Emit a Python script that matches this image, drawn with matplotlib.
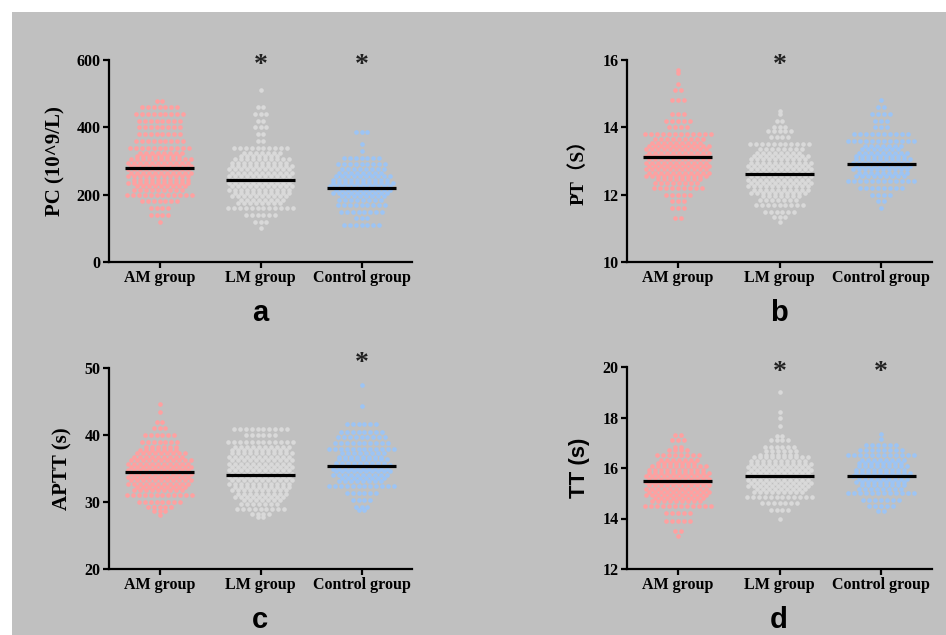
import numpy as np
import matplotlib
matplotlib.use('Agg')
from matplotlib import pyplot as plt
from matplotlib.patches import Rectangle

W, H = 946, 635

groups = ['AM group', 'LM group', 'Control group']
colors = ['#ffa0a0', '#d9d9d9', '#9cc4f5']

# every group is given as row values and the number of dots in that row

# PC (10^9/L)
pc_am_vals = [120, 140, 160, 180, 200, 220, 240, 260, 280, 300, 320, 340, 360, 380, 400, 420, 440, 460, 478]
pc_am_cnts = [1, 4, 4, 7, 12, 18, 21, 22, 22, 22, 16, 11, 9, 8, 8, 8, 9, 7, 2]
pc_lm_vals = [100, 120, 140, 160, 180, 200, 220, 240, 260, 280, 300, 320, 340, 360, 380, 400, 420, 440, 460, 510]
pc_lm_cnts = [1, 3, 6, 12, 16, 20, 22, 22, 22, 22, 20, 14, 10, 2, 2, 3, 2, 3, 2, 1]
pc_ct_vals = [110, 130, 150, 170, 190, 210, 230, 250, 270, 290, 310, 330, 350, 385]
pc_ct_cnts = [7, 3, 8, 9, 16, 20, 22, 20, 16, 9, 7, 1, 1, 3]
pc_means = [280, 243, 220]

# PT (S)
pt_am_vals = [11.3, 11.6, 11.8, 12.0, 12.2, 12.4, 12.6, 12.8, 13.0, 13.2, 13.4, 13.6, 13.8, 14.0, 14.2, 14.4, 14.8, 15.1, 15.3, 15.6, 15.7]
pt_am_cnts = [2, 3, 3, 5, 9, 16, 22, 22, 22, 22, 22, 18, 12, 4, 5, 3, 3, 2, 1, 1, 1]
pt_lm_vals = [11.2, 11.35, 11.5, 11.7, 11.9, 12.1, 12.3, 12.5, 12.7, 12.9, 13.1, 13.3, 13.5, 13.7, 13.9, 14.0, 14.2, 14.4, 14.5]
pt_lm_cnts = [1, 3, 6, 9, 14, 20, 22, 22, 22, 22, 20, 16, 11, 4, 5, 3, 2, 1, 1]
pt_ct_vals = [11.6, 11.8, 12.0, 12.2, 12.4, 12.6, 12.8, 13.0, 13.2, 13.4, 13.6, 13.8, 14.0, 14.2, 14.4, 14.6, 14.8]
pt_ct_cnts = [1, 2, 4, 8, 12, 18, 20, 20, 18, 14, 12, 10, 3, 3, 4, 2, 1]
pt_means = [13.12, 12.61, 12.91]

# APTT (s)
aptt_am_vals = [28.0, 28.7, 29.3, 30, 31, 32, 33, 34, 35, 36, 37, 38, 39, 40, 41, 42, 43.4, 44.7]
aptt_am_cnts = [1, 3, 5, 8, 12, 18, 22, 22, 22, 22, 18, 13, 7, 6, 3, 2, 1, 1]
aptt_lm_vals = [27.7, 28.2, 29, 30, 31, 32, 33, 34, 35, 36, 37, 38, 39, 40, 40.9]
aptt_lm_cnts = [2, 4, 9, 14, 18, 20, 22, 22, 22, 22, 22, 20, 12, 6, 10]
aptt_ct_vals = [28.8, 29.3, 30.3, 31.3, 32.4, 33.4, 34.3, 35.2, 36.1, 37.0, 37.9, 38.8, 39.7, 40.5, 41.6, 44.3, 47.5]
aptt_ct_cnts = [2, 3, 4, 6, 12, 16, 20, 20, 18, 16, 12, 10, 9, 8, 6, 1, 1]
aptt_means = [34.5, 34.1, 35.4]

# TT (s)
tt_am_vals = [13.3, 13.5, 13.9, 14.2, 14.5, 14.75, 15.0, 15.25, 15.5, 15.75, 16.0, 16.25, 16.5, 16.7, 16.85, 17.1, 17.3]
tt_am_cnts = [1, 2, 5, 5, 12, 18, 22, 22, 22, 22, 20, 14, 8, 4, 2, 3, 2]
tt_lm_vals = [14.0, 14.35, 14.6, 14.85, 15.1, 15.35, 15.6, 15.85, 16.1, 16.35, 16.6, 16.85, 17.1, 17.25, 17.65, 18.0, 18.2, 19.0]
tt_lm_cnts = [1, 4, 7, 12, 18, 22, 22, 22, 22, 20, 13, 6, 4, 2, 1, 1, 1, 1]
tt_ct_vals = [14.3, 14.5, 14.75, 15.0, 15.25, 15.5, 15.75, 16.0, 16.25, 16.5, 16.7, 16.9, 17.15, 17.35]
tt_ct_cnts = [2, 5, 7, 12, 16, 18, 20, 18, 16, 12, 8, 6, 1, 1]
tt_means = [15.5, 15.7, 15.7]

serif = ['Liberation Serif', 'Noto Sans CJK SC', 'DejaVu Sans']
sans = ['Liberation Sans', 'DejaVu Sans']

fig = plt.figure(figsize=(W / 100, H / 100), dpi=100)
fig.patch.set_facecolor('white')
fig.patches.append(Rectangle((12 / W, 0), 1, 1 - 12 / H, transform=fig.transFigure,
                             facecolor='#c0c0c0', edgecolor='none', zorder=-5))


def swarm(ax, xc, vals, cnts, color, sub, dx=0.059, maxrow=12):
    xs, ys = [], []
    for v, n in zip(vals, cnts):
        if n > maxrow:
            parts = [(n + 1) // 2, n // 2]
            offs = [-sub, sub]
            shifts = [-dx / 4, dx / 4]
        else:
            parts, offs, shifts = [n], [0], [0]
        for k, o, s in zip(parts, offs, shifts):
            xs.extend(xc + s + (np.arange(k) - (k - 1) / 2) * dx)
            ys.extend([v + o] * k)
    ax.scatter(xs, ys, s=11, color=color, linewidths=0, zorder=2, clip_on=False)


def panel(box, data, means, ylim, yticks, ylabel, lab_x, lab_y, lab_font, lab_size,
          stars, star_dy, letter):
    x0, y0, x1, y1 = box
    ax = fig.add_axes([x0 / W, 1 - y1 / H, (x1 - x0) / W, (y1 - y0) / H])
    ax.patch.set_visible(False)
    ax.set_xlim(-0.5, 2.5)
    ax.set_ylim(*ylim)
    sub = (ylim[1] - ylim[0]) / (y1 - y0) * 1.7
    for i, (vals, cnts) in enumerate(data):
        swarm(ax, i, vals, cnts, colors[i], sub)
        ax.hlines(means[i], i - 0.34, i + 0.34, color='black', lw=2.3, zorder=3)
    for s in ['top', 'right']:
        ax.spines[s].set_visible(False)
    for s in ['left', 'bottom']:
        ax.spines[s].set_linewidth(1.6)
    ax.set_xticks(range(3))
    ax.set_xticklabels(groups, family=serif, weight='bold', fontsize=11.5)
    ax.set_yticks(yticks)
    ax.set_yticklabels([str(t) for t in yticks], family=serif, weight='bold', fontsize=11.5)
    ax.tick_params(direction='out', length=4, width=1.6, pad=2)
    ax.set_ylabel(ylabel, family=lab_font, weight='bold', fontsize=lab_size)
    ax.yaxis.set_label_coords(lab_x, lab_y)
    for i in stars:
        ax.annotate('*', xy=(i, ylim[1]), xytext=(0, star_dy), textcoords='offset points',
                    ha='center', va='center', family=serif, weight='bold',
                    fontsize=20, color='#222222', annotation_clip=False)
    fig.text(((x0 + x1) / 2 - 0.5) / W, letter[1], letter[0], family=sans, weight='bold',
             fontsize=21, ha='center', va='baseline')
    return ax


panel((109, 60, 412, 262),
      [(pc_am_vals, pc_am_cnts), (pc_lm_vals, pc_lm_cnts), (pc_ct_vals, pc_ct_cnts)],
      pc_means, (0, 600), [0, 200, 400, 600], 'PC (10^9/L)', -0.145, 0.5, serif, 15,
      [1, 2], -4, ('a', 1 - 321 / H))

panel((627, 60, 932, 262),
      [(pt_am_vals, pt_am_cnts), (pt_lm_vals, pt_lm_cnts), (pt_ct_vals, pt_ct_cnts)],
      pt_means, (10, 16), [10, 12, 14, 16], 'PT\uff08S\uff09', -0.128, 0.465, serif, 14,
      [1], -4, ('b', 1 - 321 / H))

panel((109, 368, 412, 569),
      [(aptt_am_vals, aptt_am_cnts), (aptt_lm_vals, aptt_lm_cnts), (aptt_ct_vals, aptt_ct_cnts)],
      aptt_means, (20, 50), [20, 30, 40, 50], 'APTT (s)', -0.122, 0.5, serif, 15,
      [2], 3, ('c', 1 - 628 / H))

panel((627, 367, 932, 569),
      [(tt_am_vals, tt_am_cnts), (tt_lm_vals, tt_lm_cnts), (tt_ct_vals, tt_ct_cnts)],
      tt_means, (12, 20), [12, 14, 16, 18, 20], 'TT (s)', -0.121, 0.5, sans, 16,
      [1, 2], -4, ('d', 1 - 628 / H))

fig.savefig('out.png', dpi=100, facecolor=fig.get_facecolor())
